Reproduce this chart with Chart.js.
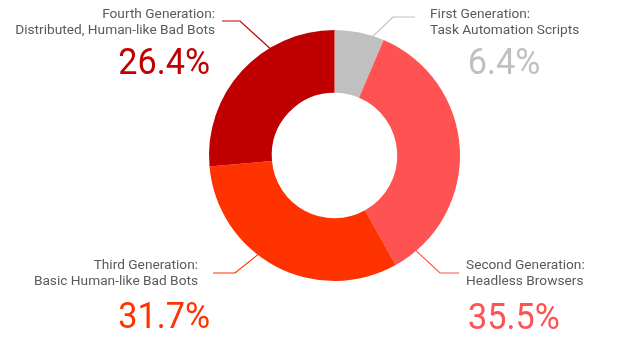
<!DOCTYPE html>
<html>
<head>
<meta charset="utf-8">
<script src="https://cdn.jsdelivr.net/npm/chart.js@4/dist/chart.umd.min.js"></script>
<style>
  html, body { margin: 0; padding: 0; background: #fff; }
  #wrap { width: 624px; height: 354px; position: relative; }
</style>
</head>
<body>
<div id="wrap"><canvas id="botChart"></canvas></div>
<script>
// data, clockwise from 12 o'clock
const categories = ['First Generation', 'Second Generation', 'Third Generation', 'Fourth Generation'];
const subtitles = ['Task Automation Scripts', 'Headless Browsers', 'Basic Human-like Bad Bots', 'Distributed, Human-like Bad Bots'];
const shares = [6.4, 35.5, 31.7, 26.4];
const colors = ['#c0c0c0', '#ff5252', '#ff3300', '#c00000'];

// callout layout per slice: text anchor, align, leader elbow, angle where leader hits the ring
const callouts = [
  { tx: 430, ty: 18, align: 'left',  px: 504, py: 74,  palign: 'center', lx: 415, ly: 17, ex: 393, hit: 17.6 },
  { tx: 466, ty: 269, align: 'left', px: 468, py: 329, palign: 'left',   lx: 459, ly: 273, ex: 440, hit: 139.5 },
  { tx: 198, ty: 269, align: 'right', px: 210, py: 328, palign: 'right', lx: 213, ly: 273, ex: 235, hit: 217.6 },
  { tx: 215, ty: 18, align: 'right', px: 210, py: 74,  palign: 'right',  lx: 222, ly: 21, ex: 240, hit: 329 }
];

const calloutPlugin = {
  id: 'callouts',
  afterDraw(chart) {
    const ctx = chart.ctx;
    const meta = chart.getDatasetMeta(0);
    meta.data.forEach((arc, i) => {
      const c = callouts[i];
      const p = arc.getProps(['x', 'y', 'outerRadius'], true);
      const a = (c.hit - 90) * Math.PI / 180;
      const hx = p.x + Math.cos(a) * (p.outerRadius - 1);
      const hy = p.y + Math.sin(a) * (p.outerRadius - 1);

      ctx.save();
      ctx.strokeStyle = colors[i];
      ctx.lineWidth = 1.2;
      ctx.beginPath();
      ctx.moveTo(c.lx, c.ly);
      ctx.lineTo(c.ex, c.ly);
      ctx.lineTo(hx, hy);
      ctx.stroke();

      ctx.fillStyle = '#5a5a5a';
      ctx.font = '13.7px Roboto';
      ctx.textAlign = c.align;
      ctx.textBaseline = 'alphabetic';
      ctx.fillText(categories[i] + ':', c.tx, c.ty);
      ctx.fillText(subtitles[i], c.tx, c.ty + 15.5);

      // big percentage, slightly condensed like the original
      ctx.fillStyle = colors[i];
      ctx.font = '36px Roboto';
      ctx.textAlign = c.palign;
      ctx.translate(c.px, c.py);
      ctx.scale(0.95, 1);
      ctx.fillText(shares[i].toFixed(1) + '%', 0, 0);
      ctx.restore();
    });
  }
};

new Chart(document.getElementById('botChart'), {
  type: 'doughnut',
  data: {
    labels: categories,
    datasets: [{
      data: shares,
      backgroundColor: colors,
      borderWidth: 0,
      hoverOffset: 0
    }]
  },
  options: {
    responsive: true,
    maintainAspectRatio: false,
    animation: false,
    cutout: '50%',
    layout: { padding: { top: 30, bottom: 73, left: 209, right: 164 } },
    plugins: {
      legend: { display: false },
      tooltip: { enabled: false }
    }
  },
  plugins: [calloutPlugin]
});
</script>
</body>
</html>
